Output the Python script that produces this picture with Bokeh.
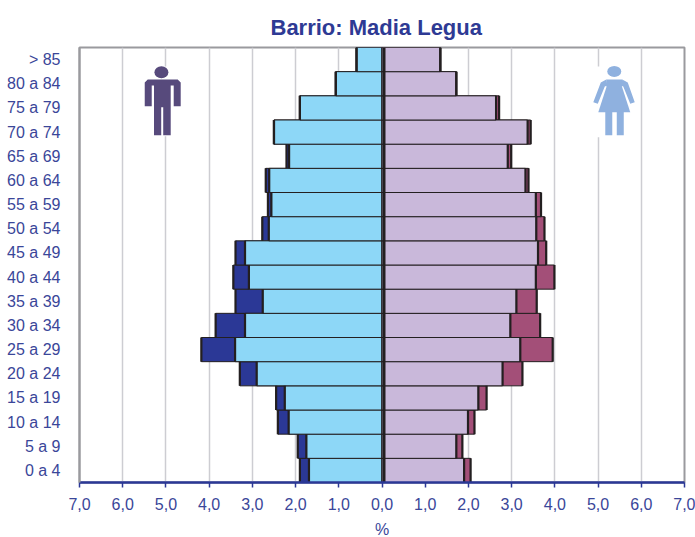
from bokeh.plotting import figure
from bokeh.models import Range1d, FixedTicker, Title
from bokeh.embed import file_html
from bokeh.resources import INLINE

ages = ["0 a 4", "5 a 9", "10 a 14", "15 a 19", "20 a 24", "25 a 29", "30 a 34", "35 a 39", "40 a 44",
        "45 a 49", "50 a 54", "55 a 59", "60 a 64", "65 a 69", "70 a 74", "75 a 79", "80 a 84", "> 85"]
male_inner = [1.69, 1.75, 2.16, 2.25, 2.90, 3.40, 3.17, 2.76, 3.08, 3.17, 2.62, 2.56, 2.61, 2.15, 2.50, 1.90, 1.07, 0.59]
male_total = [1.90, 1.95, 2.41, 2.45, 3.29, 4.18, 3.85, 3.39, 3.44, 3.39, 2.77, 2.64, 2.69, 2.21, 2.50, 1.90, 1.07, 0.59]
female_inner = [1.90, 1.72, 1.99, 2.23, 2.79, 3.20, 2.97, 3.11, 3.56, 3.61, 3.57, 3.56, 3.32, 2.91, 3.37, 2.64, 1.72, 1.35]
female_total = [2.05, 1.86, 2.14, 2.42, 3.25, 3.95, 3.66, 3.58, 3.99, 3.80, 3.76, 3.68, 3.39, 2.99, 3.44, 2.71, 1.72, 1.35]
x_ticks = [-7, -6, -5, -4, -3, -2, -1, 0, 1, 2, 3, 4, 5, 6, 7]
x_labels = {t: f"{abs(t)},0" for t in x_ticks}

BLUE = "#3A4699"
INK = "#231F20"
L, R, T, B = 78.7, 684.3, 47, 483
rows = [i + 0.5 for i in range(len(ages))]

p = figure(width=695, height=537, output_backend="svg", toolbar_location=None,
           x_range=Range1d(-7, 7), y_range=Range1d(0, len(ages)),
           min_border_left=round(L), min_border_right=round(695 - R), min_border_top=T, min_border_bottom=537 - B,
           background_fill_color="white", border_fill_color="white")
p.extra_x_ranges = {"px": Range1d(L, R)}
p.extra_y_ranges = {"px": Range1d(B, T)}

p.outline_line_color = "#9A9A9E"
p.outline_line_width = 2
p.ygrid.grid_line_color = None
p.xgrid.grid_line_color = "#CDCDD2"
p.xgrid.grid_line_width = 1.5
p.xgrid.ticker = FixedTicker(ticks=x_ticks)

xa = p.xaxis[0]
xa.ticker = FixedTicker(ticks=x_ticks)
xa.major_label_overrides = x_labels
xa.major_label_text_color = BLUE
xa.major_label_text_font = "Liberation Sans"
xa.major_label_text_font_size = "16px"
xa.major_label_standoff = 10
xa.major_tick_in = 0
xa.major_tick_out = 5
xa.minor_tick_line_color = None
xa.major_tick_line_color = "#2B3896"
xa.major_tick_line_width = 1.5
xa.axis_line_color = "#2B3896"
xa.axis_line_width = 2.5

ya = p.yaxis[0]
ya.ticker = FixedTicker(ticks=rows)
ya.major_label_overrides = dict(zip(rows, ages))
ya.major_tick_line_color = None
ya.minor_tick_line_color = None
ya.axis_line_color = "#9A9A9E"
ya.axis_line_width = 2
ya.major_label_text_color = BLUE
ya.major_label_text_font = "Liberation Sans"
ya.major_label_text_font_size = "16px"
ya.major_label_standoff = 13

p.title = Title(text="Barrio: Madia Legua", align="left", offset=186, vertical_align="top", text_color="#2E3A94",
                text_font="Liberation Sans", text_font_style="bold", text_font_size="22px", standoff=11,
                padding=(5, 0, 0, 0))
p.add_layout(Title(text="%", align="center", vertical_align="bottom", text_color=BLUE,
                   text_font="Liberation Sans", text_font_style="normal", text_font_size="16px",
                   text_line_height=1.0, standoff=0, padding=(0, 0, 6, 0)), "below")

H_BAR = 1.0
def bars(left, right, fill):
    p.hbar(y=rows, left=left, right=right, height=H_BAR, fill_color=fill, line_color=INK, line_width=1)

def ends(xs):
    p.segment(x0=xs, x1=xs, y0=[r - 0.5 for r in rows], y1=[r + 0.5 for r in rows], line_color=INK, line_width=2.2)

bars([-v for v in male_total], 0, "#2B3896")
bars([-v for v in male_inner], 0, "#8DD7F7")
bars(0, female_total, "#A34F78")
bars(0, female_inner, "#C9B8DA")
for col, sign in ((male_total, -1), (male_inner, -1), (female_total, 1), (female_inner, 1)):
    ends([sign * v for v in col])
p.line(x=[383.5, 383.5], y=[T, B], x_range_name="px", y_range_name="px", line_color=INK, line_width=3)

# pictograms, in page pixels through the "px" ranges
def shape(xs, ys, color):
    p.patch(xs, ys, x_range_name="px", y_range_name="px", fill_color=color, line_color=None)

def head(x, y, w, h, color):
    p.ellipse(x=[x], y=[y], width=w, height=h, x_range_name="px", y_range_name="px", fill_color=color, line_color=None)

MAN = "#574A7C"
shape([141, 183, 183, 141], [66, 66, 136, 136], "white")
head(160.7, 71.7, 14, 12, MAN)
shape([147, 177, 180, 180, 173, 173, 170, 170, 162.5, 162.5, 160.5, 160.5, 153.3, 153.3, 151, 151, 144, 144],
      [79, 79, 82, 106, 106, 85, 85, 135, 135, 107, 107, 135, 135, 85, 85, 106, 106, 82], MAN)

WOMAN = "#8FB1DF"
shape([592, 636, 636, 592], [66, 66, 137, 137], "white")
head(614, 71, 14, 11, WOMAN)
shape([607, 621, 630, 598], [84, 84, 112, 112], WOMAN)
shape([606, 622, 622, 606], [79, 79, 86, 86], WOMAN)
shape([606, 600.5, 593, 597.5, 604.5, 607], [79, 82, 102, 103.5, 86, 85], WOMAN)
shape([622, 627.5, 634.5, 630, 623, 621], [79, 82, 102, 103.5, 86, 85], WOMAN)
shape([605, 612, 612, 605], [111, 111, 135, 135], WOMAN)
shape([616.5, 623.5, 623.5, 616.5], [111, 111, 135, 135], WOMAN)

open("out.html", "w").write(file_html(p, INLINE))
